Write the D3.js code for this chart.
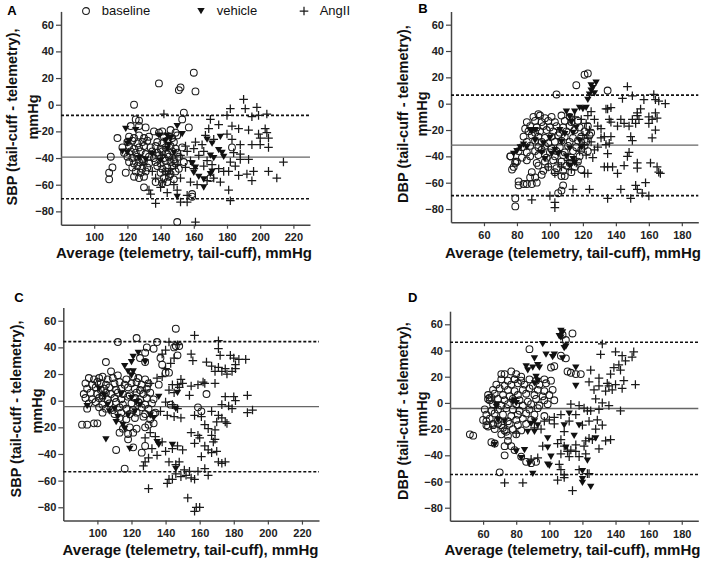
<!DOCTYPE html>
<html>
<head>
<meta charset="utf-8">
<script src="https://cdn.jsdelivr.net/npm/d3@7"></script>
<style>
  body { margin: 0; background: #fff; }
  svg { display: block; }
  text { font-family: "Liberation Sans", Arial, sans-serif; }
</style>
</head>
<body>
<div id="chart"></div>
<script>
// ---- data: [average, difference] in mmHg ----

// panel A : SBP, telemetry vs tail-cuff
const aBaseline = [
  [160,24],[139,16],[152,13],[151,11],[161,10],[124,0],[154,-6],[153,-11],[125,-11],[127,-12],[122,-16],[127,-16],[131,-17],[157,-17],
  [114,-25],[110,-39],[111,-47],[109,-51],[109,-56],[119,-51],[130,-62],[150,-88],[159,-67],[159,-69],[183,-32],[170,-55],
  [136,-20],[139,-21],[141,-20],[146,-19],[149,-21],
  [121,-24],[124,-25],[127,-23],[130,-25],[133,-24],[142,-24],[147,-25],[150,-23],
  [120,-28],[123,-27],[126,-29],[129,-28],[132,-27],[138,-28],[141,-29],[144,-27],[148,-28],
  [117,-32],[121,-31],[124,-33],[127,-32],[130,-31],[134,-32],[137,-31],[140,-33],[143,-32],[146,-31],[149,-33],[153,-32],
  [118,-36],[122,-35],[125,-36],[128,-35],[131,-37],[135,-35],[138,-36],[141,-35],[144,-37],[147,-35],[150,-36],
  [120,-39],[123,-40],[126,-39],[129,-41],[133,-39],[136,-40],[139,-38],[142,-40],[145,-39],[148,-41],[151,-39],
  [121,-43],[124,-44],[127,-43],[130,-42],[133,-44],[137,-43],[140,-44],[143,-42],[146,-43],[149,-44],[154,-43],
  [123,-47],[126,-46],[129,-48],[132,-47],[138,-46],[141,-48],[144,-47],[147,-46],[151,-48],
  [125,-50],[128,-51],[131,-50],[140,-51],[143,-50],[146,-52],[149,-50],
  [124,-54],[127,-55],[130,-54],[142,-55],[145,-54],[148,-56],
  [137,-58],[141,-59],[144,-58]
];
const aVehicle = [
  [119,-18],[125,-19],[139,-23],[150,-16],[153,-22],[144,-23],[146,-25],[143,-27],[145,-30],[144,-33],[120,-29],[121,-27],
  [117,-35],[131,-41],[140,-42],[171,-29],[176,-24],[177,-36],[178,-39],[170,-38],[172,-40],[159,-44],[161,-47],[160,-51],
  [163,-54],[166,-62],[171,-50],[170,-52],[150,-69],[166,-56],[148,-36],[135,-37],[120,-36],[127,-40],[168,-26],[175,-34]
];
const aAngII = [
  [190,4],[182,-3],[191,-3],[198,-2],[195,-9],[199,-8],[204,-7],[142,-7],[180,-8],[170,-11],[175,-15],[183,-16],[187,-18],
  [193,-19],[203,-18],[204,-21],[199,-22],[200,-25],[205,-25],[169,-18],[167,-23],[172,-26],[183,-26],[188,-30],[195,-30],
  [200,-30],[205,-32],[214,-43],[210,-55],[205,-50],[196,-50],[192,-52],[187,-53],[181,-50],[195,-57],[176,-58],[181,-64],
  [182,-72],[137,-74],[133,-64],[134,-67],[152,-73],[156,-73],[161,-88],[188,-41],[193,-41],[188,-37],[165,-30],[160,-33],
  [156,-35],[152,-38],[163,-38],[168,-42],[158,-42],[150,-45],[155,-47],[145,-52],[152,-55],[158,-58],[162,-60],[148,-60],
  [141,-58],[140,-62],[137,-55],[143,-50],[146,-48],[160,-48],[166,-46],[171,-45],[175,-48],[178,-50],[185,-46],[147,-40],
  [141,-38],[155,-31],[161,-28],[166,-35],[182,-43],[172,-55],[168,-57],[150,-64],[144,-66],[156,-68],[135,-50],[130,-45],
  [180,-22],[184,-36]
];

// panel B : DBP, telemetry vs tail-cuff
const bBaseline = [
  [121,22],[123,23],[116,14],[104,7],[135,10],[93,-8],[85,-19],[76,-40],[77,-50],[79,-45],[80,-44],[81,-59],[81,-62],[84,-61],
  [86,-61],[89,-61],[92,-60],[88,-56],[91,-56],[79,-72],[79,-78],[107,-66],[105,-68],[108,-62],[109,-55],[107,-55],[119,-50],[95,-54],
  [90,-10],[94,-9],[97,-11],[101,-10],[107,-9],[112,-10],
  [86,-14],[91,-13],[95,-14],[99,-13],[103,-14],[109,-13],[113,-14],[117,-13],
  [88,-17],[92,-18],[96,-17],[100,-18],[104,-17],[108,-18],[112,-17],[118,-18],[123,-17],
  [87,-21],[91,-22],[94,-21],[98,-20],[102,-21],[106,-22],[110,-21],[115,-20],[121,-21],[125,-22],
  [84,-25],[89,-24],[93,-25],[97,-26],[101,-25],[105,-24],[109,-25],[114,-26],[119,-25],[124,-24],
  [86,-29],[91,-28],[95,-29],[99,-30],[103,-29],[107,-28],[112,-29],[117,-28],[122,-29],
  [83,-33],[88,-32],[93,-33],[97,-32],[101,-34],[106,-33],[111,-32],[116,-33],[121,-32],
  [81,-36],[86,-37],[91,-36],[95,-35],[100,-37],[104,-36],[109,-37],[114,-36],[119,-35],[123,-36],
  [76,-40],[83,-41],[88,-40],[93,-39],[98,-41],[103,-40],[108,-39],[113,-41],[118,-40],
  [79,-44],[86,-43],[92,-45],[97,-44],[102,-43],[107,-44],[112,-45],[117,-44],
  [78,-48],[93,-47],[99,-48],[104,-49],[110,-47],[115,-48],
  [89,-52],[96,-51],[103,-52],[108,-51],[113,-52]
];
const bVehicle = [
  [78,-38],[80,-36],[82,-33],[84,-31],[86,-33],[89,-21],[91,-20],[110,-6],[112,-10],[115,-6],[118,-3],[120,-4],[122,-3],
  [123,3],[124,7],[125,10],[125,14],[127,8],[128,16],[126,12],[113,-14],[116,-18],[114,-22],[109,-23],[107,-29],[112,-34],
  [114,-42],[112,-47],[115,-45],[110,-40],[105,-38],[103,-35],[101,-38],[97,-42],[95,-37],[91,-28],[88,-20],[118,-28],
  [119,-33],[96,-30],[100,-26],[106,-20]
];
const bAngII = [
  [147,13],[144,4],[150,6],[157,3],[163,7],[164,3],[166,2],[170,0],[135,-4],[137,-3],[155,-4],[153,-9],[154,-12],[153,-7],
  [160,-10],[164,-7],[165,-11],[162,-12],[160,-15],[136,-12],[137,-14],[143,-12],[145,-15],[148,-17],[141,-17],[150,-12],
  [152,-15],[164,-20],[162,-26],[127,-12],[129,-17],[131,-19],[133,-25],[137,-25],[131,-26],[134,-31],[136,-30],[127,-35],
  [126,-41],[129,-33],[135,-38],[149,-25],[150,-28],[148,-37],[147,-40],[133,-48],[135,-48],[138,-48],[141,-53],[145,-47],
  [153,-45],[153,-49],[161,-45],[165,-48],[166,-52],[167,-53],[123,-53],[114,-65],[124,-65],[143,-65],[152,-62],[153,-65],
  [156,-68],[158,-60],[160,-70],[149,-72],[135,-72],[89,-73],[100,-70],[103,-75],[103,-79],[99,-48],[103,-53],[105,-45],
  [107,-48],[119,-12],[122,-15],[124,-20],[120,-24],[123,-26],[125,-29],[121,-31],[118,-36],[122,-39],[116,-45],[111,-43],
  [113,-50],[121,-53],[123,-9],[125,-6],[115,-10],[134,-4]
];

// panel C : SBP, radiotelemetry vs tail-cuff
const cBaseline = [
  [146,54],[112,44],[123,47],[135,44],[146,41],[148,41],[147,34],[145,40],[129,40],[133,39],[128,36],[137,32],[138,27],[140,21],
  [142,21],[105,29],[125,32],[128,29],[108,22],[112,19],[136,12],[164,5],[143,-3],[159,-5],[161,-8],[91,-18],[94,-18],[98,-17],
  [100,-17],[111,-37],[116,-51],[126,-39],[133,-17],[130,-18],[133,-10],
  [95,17],[98,16],[101,17],[103,18],[106,16],[109,17],[117,16],[121,18],[124,17],[128,16],
  [93,13],[97,12],[100,14],[102,13],[105,12],[110,13],[113,14],[116,12],[120,13],[123,14],[126,12],[130,13],
  [94,9],[99,10],[102,8],[104,9],[107,10],[111,8],[114,9],[118,10],[122,9],[125,8],[129,9],
  [92,5],[96,6],[100,5],[103,4],[105,6],[108,5],[112,6],[115,5],[119,4],[123,6],[127,5],[131,6],
  [93,2],[97,1],[101,2],[103,3],[106,1],[110,2],[114,1],[118,3],[122,2],[125,1],[129,2],[133,1],
  [95,-2],[99,-1],[103,-3],[107,-2],[111,-1],[115,-3],[120,-2],[124,-1],[128,-3],[132,-2],
  [94,-6],[101,-5],[105,-6],[109,-7],[113,-5],[117,-6],[121,-7],[126,-5],[130,-6],
  [103,-9],[110,-10],[114,-9],[119,-10],[123,-9],[128,-10],[134,-9],
  [113,-13],[117,-14],[122,-13],[127,-12],[131,-14],
  [115,-21],[119,-20],[123,-21],[128,-20],
  [113,-24],[118,-25],[121,-24],
  [118,-29],[121,-35],[128,-34]
];
const cVehicle = [
  [124,36],[121,33],[120,29],[116,26],[118,22],[120,19],[121,22],[128,29],[136,3],[147,6],[146,-6],[94,-4],[106,-3],[110,-6],
  [107,-8],[111,-16],[112,-12],[115,-18],[116,-21],[105,-29],[119,-36],[131,-11],[133,-13],[136,-33],[135,-31],[144,-33],
  [146,-51],[114,5],[120,2],[123,-1],[125,-3],[122,-8],[118,-11],[101,9],[104,4]
];
const cAngII = [
  [157,49],[171,45],[171,39],[172,34],[155,35],[156,30],[142,44],[147,42],[140,38],[138,35],[145,32],[143,28],[140,24],[138,18],
  [178,34],[180,32],[183,31],[187,31],[181,27],[181,24],[179,22],[176,20],[173,22],[175,24],[164,29],[167,26],[171,25],[169,22],
  [149,16],[150,13],[147,12],[144,12],[142,8],[145,6],[148,10],[159,12],[162,14],[163,13],[169,13],[155,11],[154,4],
  [175,3],[180,3],[181,0],[188,4],[188,-9],[191,-7],[173,-3],[177,-4],[179,-6],[167,-8],[171,-11],[170,-16],[173,-13],
  [175,-16],[176,-17],[169,-22],[167,-26],[169,-29],[168,-31],[170,-38],[171,-46],[173,-47],[175,-46],
  [140,-1],[144,-3],[147,-6],[141,-11],[145,-12],[149,-13],[137,-8],[157,-11],[161,-12],[163,-18],[165,-21],[155,-24],
  [159,-26],[160,-28],[157,-32],[163,-34],[165,-37],[167,-39],[161,-42],[128,-28],[131,-24],[134,-27],[138,-31],[132,-36],
  [135,-41],[130,-43],[128,-46],[127,-49],[140,-38],[144,-36],[147,-34],[150,-37],[142,-46],[146,-48],[148,-46],[151,-52],
  [154,-53],[152,-56],[155,-58],[157,-59],[159,-53],[163,-51],[165,-56],[142,-59],[146,-55],[149,-57],[130,-66],[153,-73],
  [158,-80],[160,-80],[157,-83],[141,-62],[144,-59],[131,13],[135,17],[128,8]
];

// panel D : DBP, radiotelemetry vs tail-cuff
const dBaseline = [
  [114,53],[110,48],[108,52],[88,41],[110,34],[107,36],[103,28],[101,27],[111,24],[113,23],[116,22],[119,22],[71,22],[73,22],
  [77,24],[80,22],[83,20],[79,18],[64,4],[65,4],[63,3],[52,-24],[54,-25],[65,-30],[67,-31],[70,-53],[73,-40],[73,-33],
  [75,-29],[77,-33],[79,-36],[83,-41],[86,-45],[89,-46],[92,-45],[62,-14],[63,-18],[66,-17],[69,-16],[72,-19],[74,-22],
  [71,18],[75,17],[79,18],[83,17],[88,18],[92,17],[97,18],[101,17],
  [68,14],[73,13],[77,14],[81,15],[85,14],[90,13],[94,14],[98,15],
  [66,10],[70,11],[75,10],[79,9],[84,10],[88,11],[93,10],[97,9],[102,10],
  [63,6],[67,7],[72,6],[76,5],[81,6],[86,7],[91,6],[96,5],[100,6],
  [64,2],[69,3],[73,2],[78,3],[82,2],[87,1],[92,3],[97,2],[103,2],
  [66,-1],[71,-2],[75,-1],[80,-1],[84,-2],[89,-1],[94,-2],[99,-1],
  [61,-5],[65,-6],[69,-5],[74,-4],[78,-5],[82,-6],[88,-5],[93,-4],
  [62,-9],[67,-8],[72,-9],[77,-10],[81,-9],[86,-8],[91,-9],[97,-10],
  [60,-13],[64,-12],[69,-13],[75,-14],[80,-13],[84,-12],[89,-13],
  [62,-17],[66,-16],[71,-17],[76,-16],[81,-17],[86,-16],
  [67,-20],[73,-21],[78,-20],[83,-21],
  [71,-24],[75,-25],[80,-24]
];
const dVehicle = [
  [107,55],[108,54],[106,51],[107,50],[110,43],[109,42],[108,34],[96,45],[98,37],[103,37],[102,35],[91,34],[93,29],[94,27],
  [90,27],[86,28],[87,25],[92,20],[93,17],[91,15],[116,27],[116,13],[79,2],[78,1],[80,0],[68,-3],[68,-1],[73,-14],[69,-13],
  [89,-16],[91,-14],[93,-17],[87,-22],[91,-22],[99,-27],[99,-34],[101,-41],[99,-47],[100,-48],[109,-17],[112,-8],[118,-17],
  [115,-25],[128,-27],[123,-44],[120,-52],[120,-58],[120,-61],[125,-64],[67,-32],[80,-37],[85,-36],[90,-54],[88,-46],
  [83,-42],[110,-34]
];
const dAngII = [
  [132,45],[131,37],[140,39],[144,36],[146,32],[151,39],[150,35],[142,29],[143,25],[139,27],[137,22],[130,19],[130,13],
  [127,10],[125,25],[124,16],[135,15],[136,13],[138,10],[140,14],[145,17],[144,11],[152,14],[134,9],[128,3],[132,0],
  [136,-2],[130,-5],[125,-6],[143,-6],[113,-1],[118,-2],[121,-4],[123,-6],[116,-9],[112,-14],[107,-9],[109,-22],[103,-11],
  [103,-16],[107,-28],[105,-31],[109,-33],[111,-37],[113,-36],[107,-39],[112,-41],[116,-37],[118,-41],[122,-29],[124,-27],
  [126,-28],[121,-33],[122,-39],[116,-32],[128,-20],[132,-17],[134,-29],[137,-28],[130,-35],[120,-17],[124,-14],[129,-13],
  [97,-14],[100,-13],[95,-20],[91,-19],[96,-33],[93,-42],[89,-43],[106,-47],[107,-51],[109,-55],[105,-59],[109,-57],
  [114,-67],[73,-61],[84,-61],[118,-51],[80,-23],[123,-54],[124,-54]
];

// mean and limits of agreement drawn in each panel
const aLines = [-8, -39.3, -70.5];
const bLines = [6.5, -31.5, -69.8];
const cLines = [44.3, -4.5, -53.3];
const dLines = [46.3, -4.3, -54.7];

const sbpTicks = [100, 120, 140, 160, 180, 200, 220];
const dbpTicks = [60, 80, 100, 120, 140, 160, 180];
const yTicks = [-80, -60, -40, -20, 0, 20, 40, 60];
const legendKeys = ["baseline", "vehicle", "AngII"];

// ---- layout ----
const W = 709, H = 562;
const svg = d3.select("#chart").append("svg").attr("width", W).attr("height", H);
svg.append("rect").attr("width", W).attr("height", H).attr("fill", "#fff");

const panels = [
  { tag: "A", name: "SBP", base: aBaseline, veh: aVehicle, ang: aAngII, lines: aLines, xdom: [80, 230], xt: sbpTicks,
    xr: [61, 310], yr: [224.7, 11.4], lbl: [12, 15.3], t1: [16.5, 117], t2: [38, 117], xt0: [184, 258] },
  { tag: "B", name: "DBP", base: bBaseline, veh: bVehicle, ang: bAngII, lines: bLines, xdom: [40, 190], xt: dbpTicks,
    xr: [451, 698.3], yr: [222.2, 11.5], lbl: [423, 13.3], t1: [408, 114], t2: [426.5, 114], xt0: [573, 258] },
  { tag: "C", name: "SBP", base: cBaseline, veh: cVehicle, ang: cAngII, lines: cLines, xdom: [80, 230], xt: sbpTicks,
    xr: [63.3, 319], yr: [520.6, 307.4], lbl: [19, 302], t1: [20.5, 409], t2: [41.5, 411], xt0: [190.5, 555] },
  { tag: "D", name: "DBP", base: dBaseline, veh: dVehicle, ang: dAngII, lines: dLines, xdom: [40, 190], xt: dbpTicks,
    xr: [450, 698.3], yr: [520.8, 311.2], lbl: [412.7, 301.6], t1: [408, 411], t2: [426.5, 414], xt0: [572.5, 554.5] }
];

const ink = "#1a1a1a";
const triPath = "M-3.7,-3L3.7,-3L0,3.3Z";
const plusPath = "M-4.3,0H4.3M0,-4.3V4.3";

function drawPanel(p) {
  const x = d3.scaleLinear().domain(p.xdom).range(p.xr);
  const y = d3.scaleLinear().domain([-90, 70]).range(p.yr);
  const g = svg.append("g");

  // axes
  const yAxis = g.append("g")
    .attr("transform", `translate(${p.xr[0]},0)`)
    .call(d3.axisLeft(y).tickValues(yTicks).tickSize(5).tickSizeOuter(0).tickPadding(2));
  const xAxis = g.append("g")
    .attr("transform", `translate(0,${p.yr[0]})`)
    .call(d3.axisBottom(x).tickValues(p.xt).tickSize(4).tickSizeOuter(0).tickPadding(5));
  [yAxis, xAxis].forEach(a => {
    a.select(".domain").attr("stroke", "#444").attr("stroke-width", 1.5);
    a.selectAll(".tick line").attr("stroke", "#444").attr("stroke-width", 1.2);
    a.selectAll(".tick text")
      .attr("fill", "#222")
      .style("font-size", "11px")
      .style("font-weight", "bold")
      .style("font-family", "'Liberation Sans', Arial, sans-serif");
  });

  // mean line and limits of agreement
  g.selectAll(".ref").data(p.lines).enter().append("line")
    .attr("x1", p.xr[0]).attr("x2", p.xr[1])
    .attr("y1", d => y(d)).attr("y2", d => y(d))
    .attr("stroke", (d, i) => i === 1 ? "#666" : "#111")
    .attr("stroke-width", (d, i) => i === 1 ? 1.4 : 1.6)
    .attr("stroke-dasharray", (d, i) => i === 1 ? null : "3,2");

  // points
  g.append("g").selectAll("circle").data(p.base).enter().append("circle")
    .attr("cx", d => x(d[0])).attr("cy", d => y(d[1])).attr("r", 3.4)
    .attr("fill", "none").attr("stroke", ink).attr("stroke-width", 1.05);
  g.append("g").selectAll("path").data(p.ang).enter().append("path")
    .attr("d", plusPath)
    .attr("transform", d => `translate(${x(d[0])},${y(d[1])})`)
    .attr("fill", "none").attr("stroke", ink).attr("stroke-width", 1.25);
  g.append("g").selectAll("path").data(p.veh).enter().append("path")
    .attr("d", triPath)
    .attr("transform", d => `translate(${x(d[0])},${y(d[1])})`)
    .attr("fill", "#111");

  // titles
  g.append("text")
    .attr("x", p.lbl[0]).attr("y", p.lbl[1])
    .attr("text-anchor", "middle")
    .style("font-size", "13px").style("font-weight", "bold")
    .text(p.tag);
  g.append("text")
    .attr("transform", `translate(${p.t1[0]},${p.t1[1]}) rotate(-90)`)
    .attr("text-anchor", "middle")
    .style("font-size", "14.5px").style("font-weight", "bold").attr("fill", "#111")
    .text(p.name + " (tail-cuff - telemetry),");
  g.append("text")
    .attr("transform", `translate(${p.t2[0]},${p.t2[1]}) rotate(-90)`)
    .attr("text-anchor", "middle")
    .style("font-size", "14.5px").style("font-weight", "bold").attr("fill", "#111")
    .text("mmHg");
  g.append("text")
    .attr("x", p.xt0[0]).attr("y", p.xt0[1])
    .attr("text-anchor", "middle")
    .style("font-size", "15px").style("font-weight", "bold").attr("fill", "#111")
    .text("Average (telemetry, tail-cuff), mmHg");
}

panels.forEach(drawPanel);

// legend, top of panel A
const legendX = [86, 201, 304];
const legend = svg.append("g");
legendKeys.forEach((k, i) => {
  const cx = legendX[i], cy = 11;
  if (i === 0) {
    legend.append("circle").attr("cx", cx).attr("cy", cy).attr("r", 3.4)
      .attr("fill", "none").attr("stroke", ink).attr("stroke-width", 1.05);
  } else if (i === 1) {
    legend.append("path").attr("d", triPath).attr("transform", `translate(${cx},${cy})`).attr("fill", "#111");
  } else {
    legend.append("path").attr("d", plusPath).attr("transform", `translate(${cx},${cy})`)
      .attr("stroke", ink).attr("stroke-width", 1.25);
  }
  legend.append("text")
    .attr("x", cx + 15.7).attr("y", 15.2)
    .style("font-size", "13px").attr("fill", "#111")
    .text(k);
});
</script>
</body>
</html>
